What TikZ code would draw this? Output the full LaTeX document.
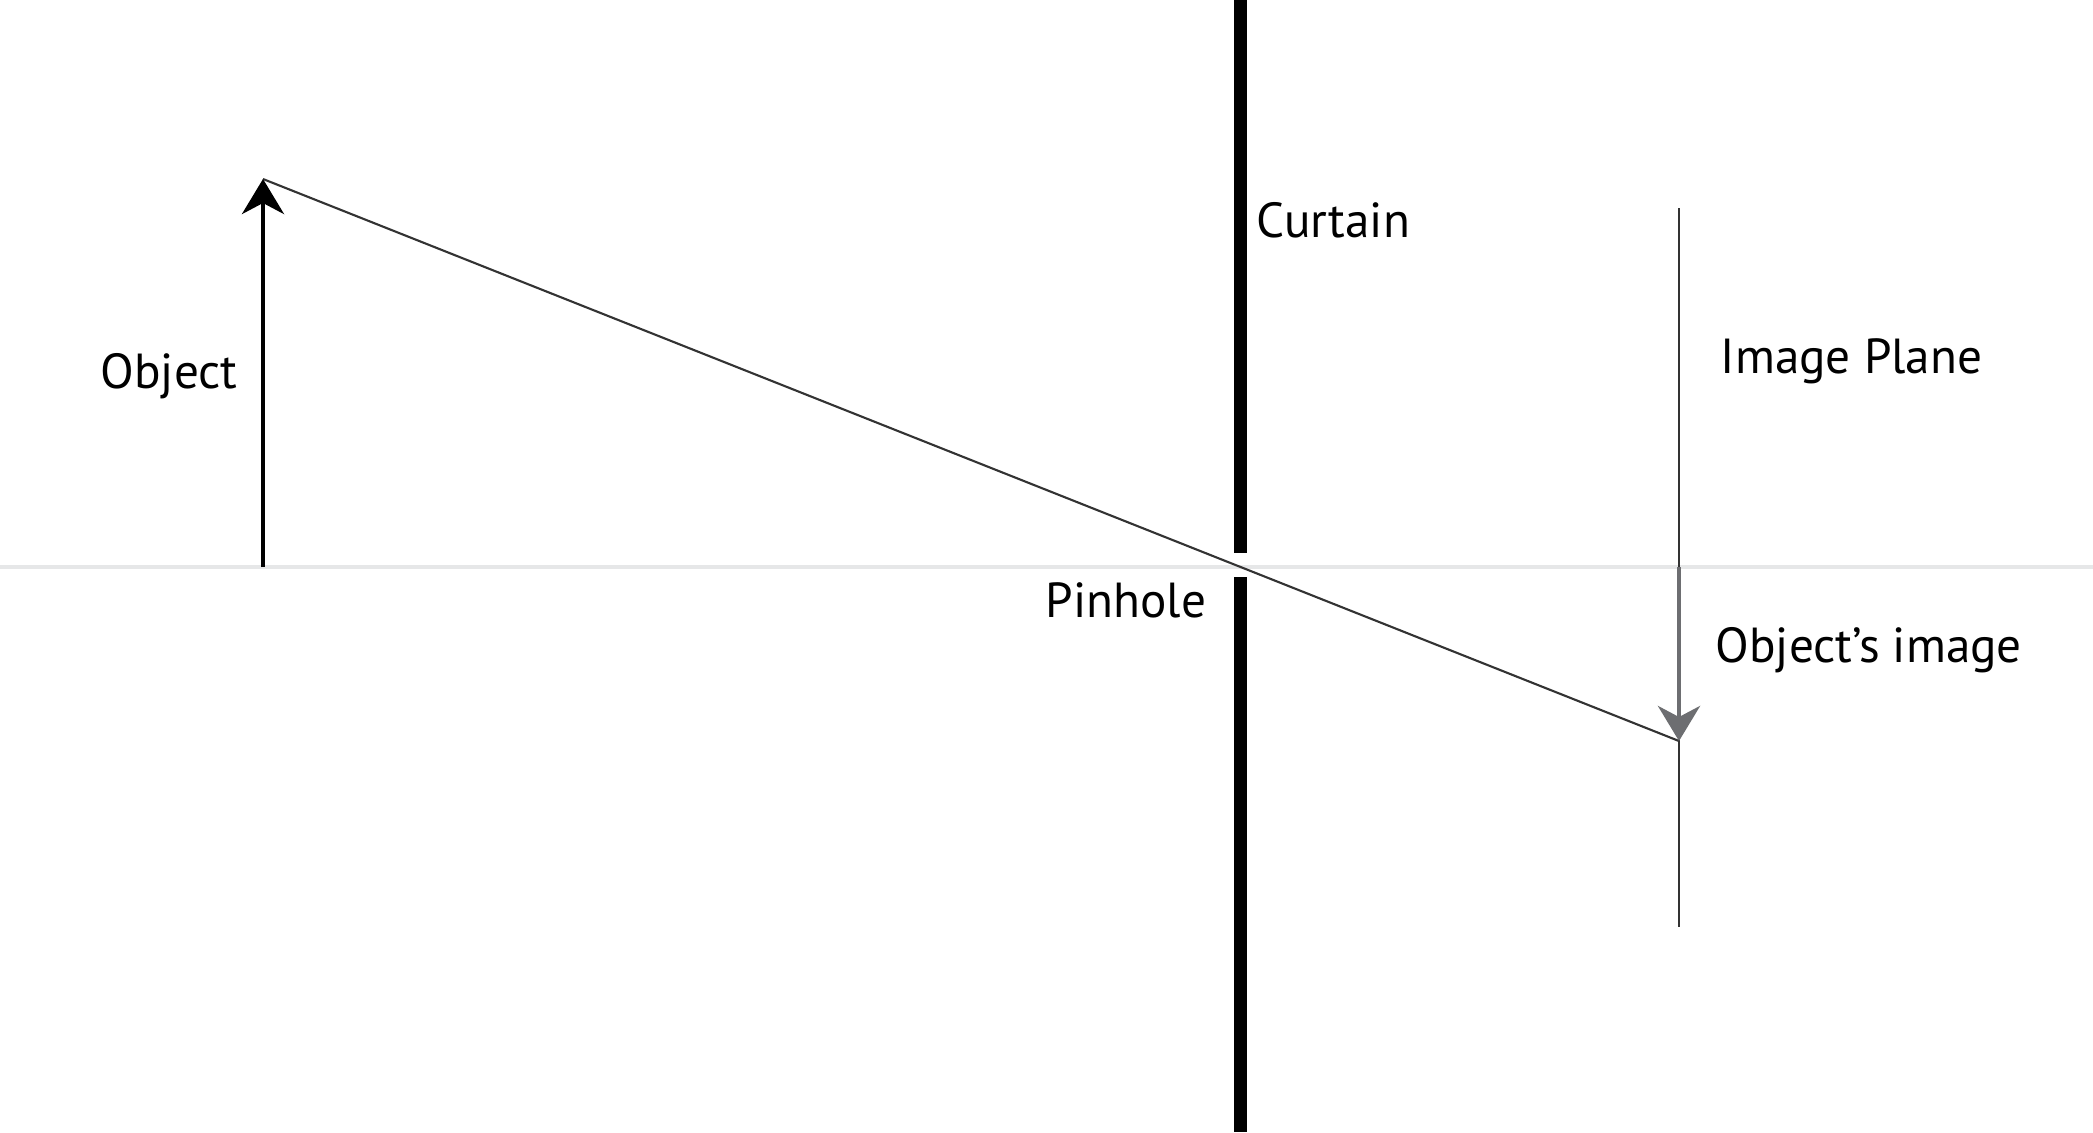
\documentclass[tikz,border=0pt]{standalone}
\usepackage{fontspec}
\setmainfont{PT Sans}
\usepackage{xcolor}
\usetikzlibrary{arrows.meta}

\definecolor{axisgray}{HTML}{E6E7E8}
\definecolor{raygray}{HTML}{333333}
\definecolor{imagegray}{HTML}{6D6E71}

\begin{document}
\begin{tikzpicture}[
    x=0.01cm, y=-0.01cm,
    label/.style={
        inner sep=0pt,
        anchor=base west,
        font=\fontsize{14pt}{16pt}\selectfont
    },
    axis/.style={draw=axisgray, line width=1.1pt},
    curtain/.style={draw=black, line width=3.7pt},
    plane/.style={draw=raygray, line width=0.55pt},
    ray/.style={draw=raygray, line width=0.6pt},
    tip/.style={-{Stealth[length=3.5mm, width=4.2mm, inset=1.1mm]}}
]
    \useasboundingbox (0,0) rectangle (2093,1132);

    % 1. Points of the set-up
    \coordinate (axisL) at (0,567);
    \coordinate (axisR) at (2093,567);
    \coordinate (objbase) at (263,567);
    \coordinate (objtop) at (263,179);
    \coordinate (curtaintop) at (1240,0);
    \coordinate (gapup) at (1240,553);
    \coordinate (gapdown) at (1240,577);
    \coordinate (curtainbot) at (1240,1132);
    \coordinate (planetop) at (1679,208);
    \coordinate (planebot) at (1679,927);
    \coordinate (imgbase) at (1679,567);
    \coordinate (imgtip) at (1679,741);

    % 2. Optical axis
    \draw[axis] (axisL) -- (axisR);

    % 3. Curtain with the pinhole gap
    \draw[curtain] (curtaintop) -- (gapup);
    \draw[curtain] (gapdown) -- (curtainbot);

    % 4. Image plane
    \draw[plane] (planetop) -- (planebot);

    % 5. Ray through the pinhole
    \draw[ray] (objtop) -- (imgtip);

    % 6. Object and its image
    \draw[tip, line width=1.15pt, black] (objbase) -- (objtop);
    \draw[tip, line width=1.35pt, imagegray] (imgbase) -- (imgtip);

    % Labels
    \node (curtainlbl) [label] at (1256,237) {Curtain};
    \node (planelbl) [label] at (1720,373) {Image Plane};
    \node (pinholelbl) [label] at (1045,617) {Pinhole};
    \node (imagelbl) [label] at (1715,662) {Object’s image};
    \node (objectlbl) [label] at (100,388) {Object};

\end{tikzpicture}
\end{document}
